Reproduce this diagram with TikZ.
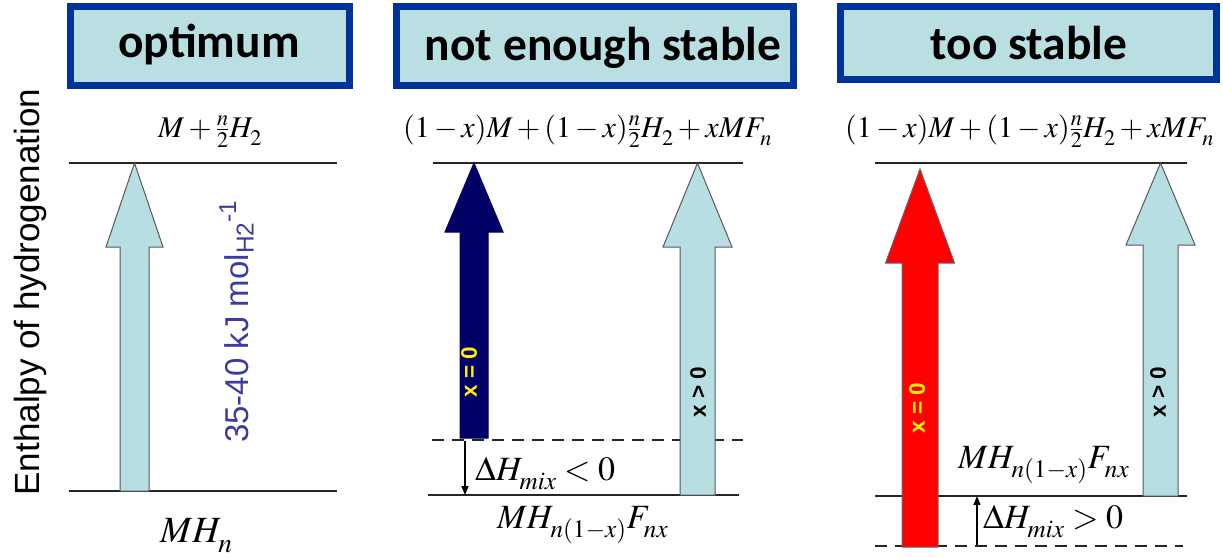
\documentclass[tikz,border=0pt]{standalone}
\usepackage{mathptmx}
\usepackage[no-math]{fontspec}
\newfontfamily\titlefont{Carlito}
\newfontfamily\arialfont{Liberation Sans}
\definecolor{tborder}{RGB}{0,51,153}
\definecolor{tfill}{RGB}{185,223,227}
\definecolor{lblue}{RGB}{183,222,226}
\definecolor{navyarrow}{RGB}{0,0,102}
\definecolor{valblue}{RGB}{60,60,160}
\usetikzlibrary{arrows.meta}
\newcommand{\lowsubs}{\fontdimen16\textfont2=.27\fontdimen6\textfont2
  \fontdimen17\textfont2=.27\fontdimen6\textfont2}
\tikzset{
  titlebox/.style={draw=tborder, fill=tfill, line width=7pt},
  titletext/.style={font=\titlefont\bfseries\fontsize{47.5}{50}\selectfont, inner sep=0pt, anchor=base},
  level/.style={draw=black!85, line width=1.3pt},
  dlevel/.style={level, dash pattern=on 12pt off 8pt},
  blockarrow/.style={line width=1pt, line join=miter},
  toplabel/.style={font=\fontsize{30}{34}\selectfont, inner sep=0pt, anchor=base west},
  botlabel/.style={font=\fontsize{37}{40}\selectfont, inner sep=0pt, anchor=base west},
  mixedlabel/.style={font=\fontsize{34}{38}\selectfont, inner sep=0pt, anchor=base west},
  mixlabel/.style={font=\fontsize{34}{38}\selectfont, inner sep=0pt, anchor=base west},
  xlabel/.style={font=\arialfont\bfseries\fontsize{22.5}{24}\selectfont, inner sep=0pt, rotate=90},
  smallarrow/.style={draw=black, line width=1.3pt, -{Triangle[length=9pt,width=7pt]}},
}
\newcommand{\barrow}[8]{% name, x, tip, base, bottom, shaft half, head half, style
  \draw[blockarrow,#8] (#2-#6,#5) -- (#2-#6,#4) -- (#2-#7,#4) -- (#2,#3) coordinate (#1tip)
    -- (#2+#7,#4) -- (#2+#6,#4) -- (#2+#6,#5) coordinate (#1bot) -- cycle;}
\begin{document}
\begin{tikzpicture}[x=1pt,y=-1pt]
\useasboundingbox (0,0) rectangle (1223,558);

% title boxes
\draw[titlebox] (70.5,6.5) rectangle (349.5,85.5);
\node[titletext] (t1) at (209,57) {optimum};
\draw[titlebox] (396.5,6.5) rectangle (793.5,85.5);
\node[titletext] (t2) at (603,60) {not enough stable};
\draw[titlebox] (840.5,6.5) rectangle (1216.5,79.5);
\node[titletext] (t3) at (1029,59) {too stable};

% axis label
\node[font=\arialfont\fontsize{35}{38}\selectfont, rotate=90, inner sep=0pt] (axis) at (30,292) {Enthalpy of hydrogenation};

% ---------- optimum ----------
\draw[level] (69,163) -- (337,163);
\draw[level] (69,491) -- (337,491);
\barrow{a1}{134.5}{163}{247}{491}{14.5}{28.5}{fill=lblue, draw=black!65}
\node[toplabel] (o1) at (158,137) {$\lowsubs M+\frac{n}{2}{H}_2$};
\node[botlabel] (o2) at (160,542) {$\lowsubs M{H}_n$};
\node[font=\arialfont\fontsize{33}{36}\selectfont, text=valblue, rotate=90, anchor=base west, inner sep=0pt] (val) at (248,443) {35-40 kJ mol\textsubscript{H2}\textsuperscript{-1}};

% ---------- not enough stable ----------
\draw[level] (433,163) -- (743,163);
\draw[dlevel] (432,440) -- (743,440);
\draw[level] (428,495) -- (739,495);
\barrow{a2}{474}{163}{232}{438}{14}{29}{fill=navyarrow, draw=navyarrow}
\barrow{a3}{697.5}{163}{247}{495}{17.5}{34.5}{fill=lblue, draw=black!65}
\node[toplabel] (n1) at (403,137) {$\lowsubs (1-x)M+(1-x)\frac{n}{2}{H}_2+xM{F}_n$};
\node[mixedlabel] (n2) at (497,528) {$\lowsubs M{H}_{n(1-x)}{F}_{nx}$};
\node[mixlabel] (n3) at (475,480) {$\lowsubs \Delta {H}_{mix}<0$};
\coordinate (m1) at (465,441);
\coordinate (m2) at (465,495);
\draw[smallarrow] (m1) -- (m2);
\node[xlabel, text=yellow] (x1) at (469,372) {x = 0};
\node[xlabel, text=black] (x2) at (698,392) {x > 0};

% ---------- too stable ----------
\draw[level] (875,163) -- (1187,163);
\draw[level] (875,496) -- (1187,496);
\draw[dlevel] (875,546) -- (1183,546);
\barrow{a4}{920}{169}{263}{547}{18}{34.5}{fill=red, draw=black!60}
\barrow{a5}{1160.5}{163}{245}{496}{17.5}{34.5}{fill=lblue, draw=black!65}
\node[toplabel] (s1) at (845,137) {$\lowsubs (1-x)M+(1-x)\frac{n}{2}{H}_2+xM{F}_n$};
\node[mixedlabel] (s2) at (958,468) {$\lowsubs M{H}_{n(1-x)}{F}_{nx}$};
\node[mixlabel] (s3) at (983,528) {$\lowsubs \Delta {H}_{mix}>0$};
\coordinate (r1) at (977,545);
\coordinate (r2) at (977,496);
\draw[smallarrow] (r1) -- (r2);
\node[xlabel, text=yellow] (x3) at (917,408) {x = 0};
\node[xlabel, text=black] (x4) at (1158,392) {x > 0};
\end{tikzpicture}
\end{document}
